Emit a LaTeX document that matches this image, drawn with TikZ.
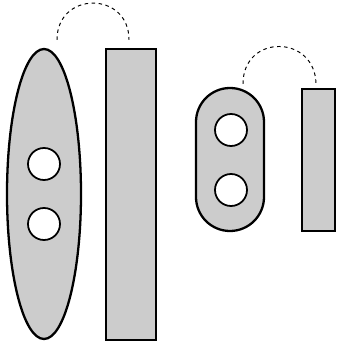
\documentclass[tikz,border=0pt]{standalone}
\usepackage{tikz}
\usetikzlibrary{shapes.geometric, calc}

\begin{document}
\begin{tikzpicture}[
    body/.style={draw, line width=1.3pt, fill=black!20, inner sep=0pt},
    hole/.style={draw, circle, line width=1pt, fill=white, minimum size=0.64cm, inner sep=0pt},
    link/.style={dashed, line width=0.55pt, dash pattern=on 2pt off 2pt}
]
    \useasboundingbox (0,0) rectangle (6.76,6.9);

    % Left pair
    \node[body, ellipse, minimum width=1.48cm, minimum height=5.8cm] (oval) at (0.88,3.02) {};
    \node[body, rectangle, minimum width=1.0cm, minimum height=5.82cm] (bigbar) at (2.62,3.01) {};
    \node[hole] (ovalup) at (0.88,3.62) {};
    \node[hole] (ovaldown) at (0.88,2.42) {};

    % Right pair
    \node[body, rectangle, rounded corners=0.68cm, minimum width=1.36cm, minimum height=2.86cm] (pill) at (4.6,3.71) {};
    \node[body, rectangle, minimum width=0.66cm, minimum height=2.84cm] (smallbar) at (6.37,3.7) {};
    \node[hole] (pillup) at (4.62,4.3) {};
    \node[hole] (pilldown) at (4.62,3.1) {};

    % Dashed links
    \coordinate (ovaltop) at ($(oval.north)+(0.26,0.16)$);
    \coordinate (bigtop) at ($(bigbar.north)+(-0.04,0.16)$);
    \coordinate (pilltop) at ($(pill.north)+(0.26,0.06)$);
    \coordinate (smalltop) at ($(smallbar.north)+(-0.05,0.06)$);
    \draw[link] (ovaltop) .. controls +(0,0.98) and +(0,0.98) .. (bigtop);
    \draw[link] (pilltop) .. controls +(0,1.01) and +(0,1.01) .. (smalltop);

\end{tikzpicture}
\end{document}
